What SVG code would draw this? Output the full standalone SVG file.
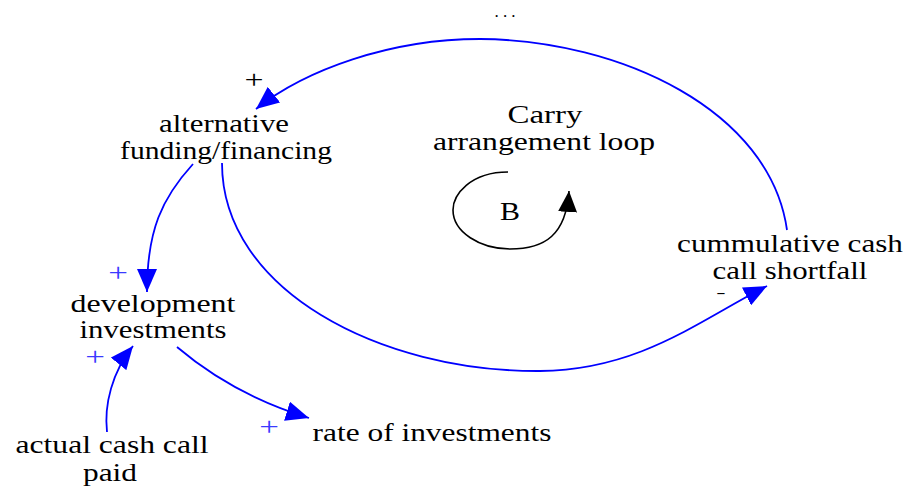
<svg xmlns="http://www.w3.org/2000/svg" width="910" height="488" viewBox="0 0 910 488">
<style>
text{font-family:'Liberation Serif','Times New Roman',serif;font-size:25px;fill:#000;text-anchor:middle}
.bp{fill:#3a3aff}
.link{fill:none;stroke:#0000ff;stroke-width:1.8}
.loop{fill:none;stroke:#000;stroke-width:1.6}
</style>
<defs>
<marker id="ab" markerUnits="userSpaceOnUse" markerWidth="24" markerHeight="20" refX="23" refY="10" orient="auto" viewBox="0 0 24 20">
<path d="M0,0 L23,10 L0,20 z" fill="#0000ff"/>
</marker>
<marker id="ak" markerUnits="userSpaceOnUse" markerWidth="22" markerHeight="20" refX="21" refY="9.5" orient="auto" viewBox="0 0 22 20">
<path d="M0,0 L21,9.5 L0,19 z" fill="#000"/>
</marker>
</defs>
<rect width="910" height="488" fill="#fff"/>
<g id="connectors">
<path class="link" d="M787 230 C770 110 620 40 480 39 C390 39 305 70 256 109" marker-end="url(#ab)"/>
<path class="link" d="M222 163 C222 290 380 372 540 371 C640 370 700 320 767 286" marker-end="url(#ab)"/>
<path class="link" d="M193 164 C162 198 147 230 147 292" marker-end="url(#ab)"/>
<path class="link" d="M107 432 C104 405 112 372 133 346" marker-end="url(#ab)"/>
<path class="link" d="M177 347 C210 375 250 400 309 418" marker-end="url(#ab)"/>
<text transform="translate(254 88) scale(1.35 1)">+</text>
<text class="bp" transform="translate(118 281) scale(1.4 1)">+</text>
<text class="bp" transform="translate(95 365) scale(1.4 1)">+</text>
<text class="bp" transform="translate(269 435) scale(1.4 1)">+</text>
<text style="font-size:14px" transform="translate(721 297) scale(2 1)">-</text>
</g>
<g id="dots"><text x="505" y="17" style="font-size:17px" textLength="21" lengthAdjust="spacing">...</text></g>
<g id="alternative-funding">
<text transform="translate(224 132) scale(1.232 1)">alternative</text>
<text transform="translate(226 159) scale(1.183 1)">funding/financing</text>
</g>
<g id="carry-loop">
<text transform="translate(545 123) scale(1.318 1)">Carry</text>
<text transform="translate(544 150) scale(1.264 1)">arrangement loop</text>
</g>
<g id="loop-B">
<path class="loop" d="M508 172 C470 172 453 195 453 210 C453 232 480 249 510 249 C545 249 566 235 569 191" marker-end="url(#ak)"/>
<text transform="translate(510 220) scale(1.2 1)">B</text>
</g>
<g id="cumulative-shortfall">
<text transform="translate(790 252) scale(1.247 1)">cummulative cash</text>
<text transform="translate(790 279) scale(1.233 1)">call shortfall</text>
</g>
<g id="development-investments">
<text transform="translate(153 312) scale(1.277 1)">development</text>
<text transform="translate(153 338) scale(1.23 1)">investments</text>
</g>
<g id="actual-cash-call">
<text transform="translate(112 453) scale(1.264 1)">actual cash call</text>
<text transform="translate(110 481) scale(1.255 1)">paid</text>
</g>
<g id="rate-of-investments">
<text transform="translate(432 441) scale(1.256 1)">rate of investments</text>
</g>
</svg>
